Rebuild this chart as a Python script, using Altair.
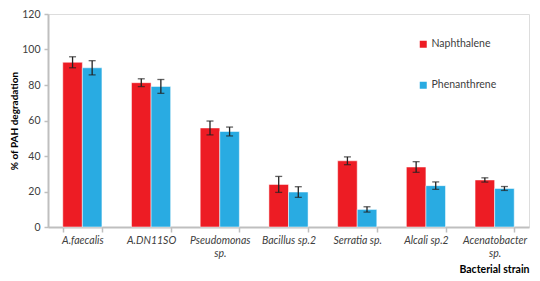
import altair as alt
import pandas as pd

strains = ["A.faecalis", "A.DN11SO", "Pseudomonas|sp.", "Bacillus sp.2",
           "Serratia sp.", "Alcali sp.2", "Acenatobacter|sp."]
series = ["Naphthalene", "Phenanthrene"]
naph = [92.8, 81.3, 55.8, 24.0, 37.3, 33.8, 26.5]
naph_err = [3.1, 2.2, 3.9, 4.5, 2.2, 3.0, 1.2]
phen = [89.7, 79.2, 53.8, 19.7, 9.9, 23.3, 21.7]
phen_err = [4.0, 3.9, 2.5, 3.0, 1.5, 2.1, 1.1]
y_ticks = [0, 20, 40, 60, 80, 100, 120]

rows = []
for i, s in enumerate(strains):
    rows.append({"strain": s, "pah": series[0], "value": naph[i],
                 "lo": naph[i] - naph_err[i], "hi": naph[i] + naph_err[i]})
    rows.append({"strain": s, "pah": series[1], "value": phen[i],
                 "lo": phen[i] - phen_err[i], "hi": phen[i] + phen_err[i]})
df = pd.DataFrame(rows)

FONT = "Lato"
x_enc = alt.X("strain:N", sort=strains, title="Bacterial strain",
              scale=alt.Scale(paddingInner=0.43, paddingOuter=0.215),
              axis=alt.Axis(labelAngle=0, labelExpr="split(datum.label, '|')",
                            labelFontStyle="italic", labelFont=FONT, labelFontSize=10.5,
                            labelColor="#404040", labelPadding=3, labelLineHeight=13,
                            tickBand="extent", tickSize=5, tickColor="#bfbfbf",
                            tickWidth=1.5, domainColor="#bfbfbf", domainWidth=2,
                            titleFont=FONT, titleFontSize=10.5, titleFontWeight="bold",
                            titleColor="#000000", titleAnchor="end", titleAlign="right",
                            titleBaseline="alphabetic", titleY=45))
xoff = alt.XOffset("pah:N", sort=series)
y_axis = alt.Axis(values=y_ticks, grid=False, labelOverlap=False,
                  labelFont=FONT, labelFontSize=10.5, labelColor="#404040",
                  tickSize=4, tickColor="#bfbfbf", tickWidth=1.5,
                  domainColor="#bfbfbf", domainWidth=2, labelPadding=4,
                  titleFont=FONT, titleFontSize=10, titleFontWeight="bold",
                  titleColor="#000000", titlePadding=2)
y_scale = alt.Scale(domain=[0, 120])

bars = alt.Chart(df).mark_bar(stroke="#ffffff", strokeOpacity=0.5, strokeWidth=1).encode(
    x=x_enc,
    xOffset=xoff,
    y=alt.Y("value:Q", title="% of PAH degradation", scale=y_scale, axis=y_axis),
    color=alt.Color("pah:N", sort=series,
                    scale=alt.Scale(domain=series, range=["#ed1c24", "#29abe2"]),
                    legend=alt.Legend(title=None, orient="none", legendX=370,
                                      legendY=25, symbolType="square", symbolSize=49,
                                      symbolStrokeWidth=0, rowPadding=30, padding=0,
                                      labelFont=FONT, labelFontSize=10.5,
                                      labelColor="#404040", labelOffset=3)),
)

rules = alt.Chart(df).mark_rule(color="#222222", strokeWidth=1.3).encode(
    x=alt.X("strain:N", sort=strains), xOffset=xoff,
    y=alt.Y("lo:Q", title="% of PAH degradation", scale=y_scale, axis=y_axis),
    y2="hi:Q")
caps_lo = alt.Chart(df).mark_tick(color="#222222", thickness=1.3, size=7).encode(
    x=alt.X("strain:N", sort=strains), xOffset=xoff,
    y=alt.Y("lo:Q", title="% of PAH degradation", scale=y_scale, axis=y_axis))
caps_hi = alt.Chart(df).mark_tick(color="#222222", thickness=1.3, size=7).encode(
    x=alt.X("strain:N", sort=strains), xOffset=xoff,
    y=alt.Y("hi:Q", title="% of PAH degradation", scale=y_scale, axis=y_axis))

chart = alt.layer(bars, rules, caps_lo, caps_hi).properties(
    width=481, height=213,
    autosize=alt.AutoSizeParams(type="none"),
    padding={"left": 40, "top": 6, "right": 3, "bottom": 46}
).configure_view(stroke=None).configure(background="#ffffff")

chart.save("out.html", embed_options={"renderer": "svg", "actions": False})
